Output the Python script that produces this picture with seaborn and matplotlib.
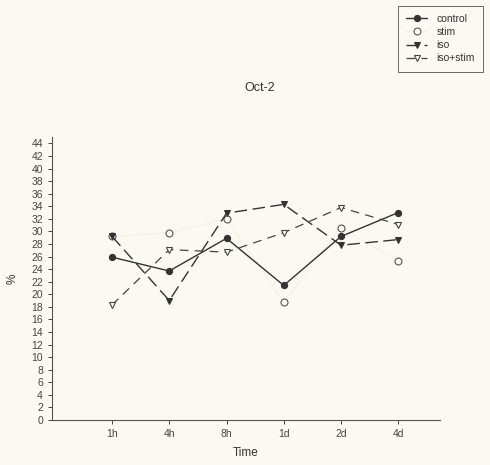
import pandas as pd
import matplotlib.pyplot as plt
import seaborn as sns
import numpy as np

# values
times = ["1h", "4h", "8h", "1d", "2d", "4d"]
control = [25.9, 23.7, 28.9, 21.4, 29.2, 33.0]
stim = [29.2, 29.8, 32.0, 18.7, 30.6, 25.3]
iso = [29.2, 19.0, 32.9, 34.3, 27.8, 28.7]
iso_stim = [18.3, 27.1, 26.7, 29.8, 33.8, 31.1]

bg = "#fbfaf2"
sns.set_style("ticks")
plt.rcParams['font.family'] = ['Liberation Sans', 'DejaVu Sans']

fig = plt.figure(figsize=(4.9, 4.65), dpi=100, facecolor=bg)
ax = fig.add_axes([0.106, 0.097, 0.792, 0.608], facecolor=bg)

x = np.arange(len(times))
#stim - faint dotted, open circles (drawn first so iso sits on top at 1h)
sns.lineplot(x=x, y=stim, ax=ax, color="#e2e2da", lw=0.8, linestyle=":",
             marker="o", markersize=5, markerfacecolor=bg,
             markeredgecolor="#555555", markeredgewidth=0.8, label="stim")
#control - solid, filled circles
sns.lineplot(x=x, y=control, ax=ax, color="#333333", lw=1.0, marker="o",
             markersize=4.5, markerfacecolor="#333333", markeredgecolor="#333333",
             label="control")
#iso - dashed, filled down triangles
sns.lineplot(x=x, y=iso, ax=ax, color="#333333", lw=1.0, dashes=False,
             marker="v", markersize=5, markerfacecolor="#333333",
             markeredgecolor="#333333", label="iso")
ax.lines[-1].set_dashes([9, 4])
#iso+stim - dashed, open down triangles
sns.lineplot(x=x, y=iso_stim, ax=ax, color="#444444", lw=0.9, dashes=False,
             marker="v", markersize=5, markerfacecolor=bg,
             markeredgecolor="#444444", markeredgewidth=0.8, label="iso+stim")
ax.lines[-1].set_dashes([7, 5])

ax.set_xlim(-1.05, 5.73)
ax.set_ylim(0, 45)
ax.set_xticks(x)
ax.set_xticklabels(times)
ax.set_yticks(np.arange(0, 45, 2))
ax.tick_params(axis="both", labelsize=7.5, colors="#444444", length=3, width=0.7)
for s in ["top", "right"]:
    ax.spines[s].set_visible(False)
for s in ["left", "bottom"]:
    ax.spines[s].set_color("#555555")
    ax.spines[s].set_linewidth(0.8)

ax.set_xlabel("Time", fontsize=8.5, color="#333333", labelpad=6)
ax.set_ylabel("%", fontsize=8.5, color="#333333")
ax.yaxis.set_label_coords(-0.085, 0.5)
fig.text(0.53, 0.81, "Oct-2", ha="center", va="center", fontsize=9, color="#333333")

handles, labels = ax.get_legend_handles_labels()
order = [1, 0, 2, 3]
ax.get_legend().remove()
leg = fig.legend([handles[i] for i in order], [labels[i] for i in order],
                 loc="upper right", bbox_to_anchor=(0.997, 0.999),
                 fontsize=7.5, frameon=True, fancybox=False, handlelength=2.0,
                 labelspacing=0.3, borderpad=0.8, handletextpad=0.9)
leg.get_frame().set_edgecolor("#444444")
leg.get_frame().set_linewidth(0.7)
leg.get_frame().set_facecolor(bg)
for t in leg.get_texts():
    t.set_color("#333333")

plt.savefig("out.png", dpi=100, facecolor=bg)
